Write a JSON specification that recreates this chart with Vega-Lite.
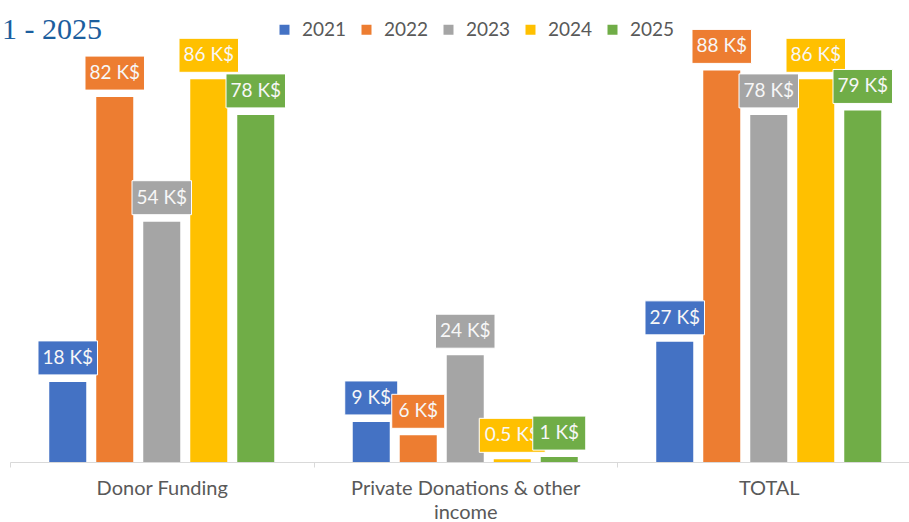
{
  "$schema": "https://vega.github.io/schema/vega-lite/v6.json",
  "width": 899,
  "height": 445,
  "autosize": {"type": "none"},
  "padding": {"left": 10, "top": 17, "right": 0, "bottom": 60},
  "background": "white",
  "config": {
    "view": {"stroke": null},
    "font": "Lato"
  },
  "data": {
    "values": [
      {"category": "Donor Funding", "year": "2021", "value": 18, "label": "18 K$"},
      {"category": "Donor Funding", "year": "2022", "value": 82, "label": "82 K$"},
      {"category": "Donor Funding", "year": "2023", "value": 54, "label": "54 K$"},
      {"category": "Donor Funding", "year": "2024", "value": 86, "label": "86 K$"},
      {"category": "Donor Funding", "year": "2025", "value": 78, "label": "78 K$"},
      {"category": "Private Donations & other income", "year": "2021", "value": 9, "label": "9 K$"},
      {"category": "Private Donations & other income", "year": "2022", "value": 6, "label": "6 K$"},
      {"category": "Private Donations & other income", "year": "2023", "value": 24, "label": "24 K$"},
      {"category": "Private Donations & other income", "year": "2024", "value": 0.6, "label": "0.5 K$"},
      {"category": "Private Donations & other income", "year": "2025", "value": 1.1, "label": "1 K$"},
      {"category": "TOTAL", "year": "2021", "value": 27, "label": "27 K$"},
      {"category": "TOTAL", "year": "2022", "value": 88, "label": "88 K$"},
      {"category": "TOTAL", "year": "2023", "value": 78, "label": "78 K$"},
      {"category": "TOTAL", "year": "2024", "value": 86, "label": "86 K$"},
      {"category": "TOTAL", "year": "2025", "value": 79, "label": "79 K$"}
    ]
  },
  "transform": [{"calculate": "length(datum.label)", "as": "nch"}],
  "encoding": {
    "x": {
      "field": "category",
      "type": "nominal",
      "sort": null,
      "title": null,
      "scale": {"range": [0, 910.5], "paddingInner": 0, "paddingOuter": 0},
      "axis": {
        "labelAngle": 0,
        "domainColor": "#D9D9D9",
        "tickColor": "#D9D9D9",
        "tickSize": 5,
        "tickBand": "extent",
        "labelFont": "Lato",
        "labelFontSize": 20,
        "labelColor": "#595959",
        "labelPadding": 11,
        "labelBaseline": "top",
        "labelLineHeight": 24,
        "labelLimit": 0,
        "labelExpr": "datum.label == 'Private Donations & other income' ? ['Private Donations & other', 'income'] : datum.label"
      }
    },
    "xOffset": {
      "field": "year",
      "type": "nominal",
      "scale": {"paddingInner": 0.2128, "paddingOuter": 0.835}
    },
    "y": {
      "field": "value",
      "type": "quantitative",
      "scale": {"domain": [0, 100], "nice": false, "zero": true},
      "axis": null
    }
  },
  "layer": [
    {
      "mark": {"type": "bar"},
      "encoding": {
        "color": {
          "field": "year",
          "type": "nominal",
          "title": "1 - 2025",
          "scale": {
            "domain": ["2021", "2022", "2023", "2024", "2025"],
            "range": ["#4472C4", "#ED7D31", "#A5A5A5", "#FFC000", "#70AD47"]
          },
          "legend": {
            "orient": "none",
            "direction": "horizontal",
            "legendX": -8,
            "legendY": 3,
            "padding": 0,
            "titleOrient": "left",
            "titleAnchor": "start",
            "titleBaseline": "line-top",
            "titleLineHeight": 21,
            "titleFont": "Liberation Serif",
            "titleFontSize": 30,
            "titleFontWeight": "normal",
            "titleColor": "#1B5E9E",
            "titlePadding": 173,
            "titleLimit": 0,
            "symbolType": "square",
            "symbolSize": 100,
            "symbolStrokeWidth": 0,
            "labelFont": "Lato",
            "labelFontSize": 19,
            "labelColor": "#595959",
            "labelOffset": 8,
            "columnPadding": 10
          }
        }
      }
    },
    {
      "transform": [{"filter": "datum.year == '2021'"}],
      "mark": {"type": "bar", "yOffset": -7, "y2Offset": -41, "stroke": "white", "strokeWidth": 1},
      "encoding": {
        "y2": {"field": "value"},
        "color": {"field": "year", "type": "nominal"},
        "size": {"field": "nch", "type": "ordinal", "scale": {"domain": [4, 5, 6], "range": [53, 66, 71]}, "legend": null}
      }
    },
    {
      "transform": [{"filter": "datum.year == '2021'"}],
      "mark": {"type": "text", "dy": -24, "baseline": "middle", "font": "Lato", "fontSize": 19, "color": "#F7F7F7"},
      "encoding": {"text": {"field": "label"}}
    },
    {
      "transform": [{"filter": "datum.year == '2022'"}],
      "mark": {"type": "bar", "yOffset": -7, "y2Offset": -41, "stroke": "white", "strokeWidth": 1},
      "encoding": {
        "y2": {"field": "value"},
        "color": {"field": "year", "type": "nominal"},
        "size": {"field": "nch", "type": "ordinal", "scale": {"domain": [4, 5, 6], "range": [53, 66, 71]}, "legend": null}
      }
    },
    {
      "transform": [{"filter": "datum.year == '2022'"}],
      "mark": {"type": "text", "dy": -24, "baseline": "middle", "font": "Lato", "fontSize": 19, "color": "#F7F7F7"},
      "encoding": {"text": {"field": "label"}}
    },
    {
      "transform": [{"filter": "datum.year == '2023'"}],
      "mark": {"type": "bar", "yOffset": -7, "y2Offset": -41, "stroke": "white", "strokeWidth": 1},
      "encoding": {
        "y2": {"field": "value"},
        "color": {"field": "year", "type": "nominal"},
        "size": {"field": "nch", "type": "ordinal", "scale": {"domain": [4, 5, 6], "range": [53, 66, 71]}, "legend": null}
      }
    },
    {
      "transform": [{"filter": "datum.year == '2023'"}],
      "mark": {"type": "text", "dy": -24, "baseline": "middle", "font": "Lato", "fontSize": 19, "color": "#F7F7F7"},
      "encoding": {"text": {"field": "label"}}
    },
    {
      "transform": [{"filter": "datum.year == '2024'"}],
      "mark": {"type": "bar", "yOffset": -7, "y2Offset": -41, "stroke": "white", "strokeWidth": 1},
      "encoding": {
        "y2": {"field": "value"},
        "color": {"field": "year", "type": "nominal"},
        "size": {"field": "nch", "type": "ordinal", "scale": {"domain": [4, 5, 6], "range": [53, 66, 71]}, "legend": null}
      }
    },
    {
      "transform": [{"filter": "datum.year == '2024'"}],
      "mark": {"type": "text", "dy": -24, "baseline": "middle", "font": "Lato", "fontSize": 19, "color": "#F7F7F7"},
      "encoding": {"text": {"field": "label"}}
    },
    {
      "transform": [{"filter": "datum.year == '2025'"}],
      "mark": {"type": "bar", "yOffset": -7, "y2Offset": -41, "stroke": "white", "strokeWidth": 1},
      "encoding": {
        "y2": {"field": "value"},
        "color": {"field": "year", "type": "nominal"},
        "size": {"field": "nch", "type": "ordinal", "scale": {"domain": [4, 5, 6], "range": [53, 66, 71]}, "legend": null}
      }
    },
    {
      "transform": [{"filter": "datum.year == '2025'"}],
      "mark": {"type": "text", "dy": -24, "baseline": "middle", "font": "Lato", "fontSize": 19, "color": "#F7F7F7"},
      "encoding": {"text": {"field": "label"}}
    }
  ]
}
